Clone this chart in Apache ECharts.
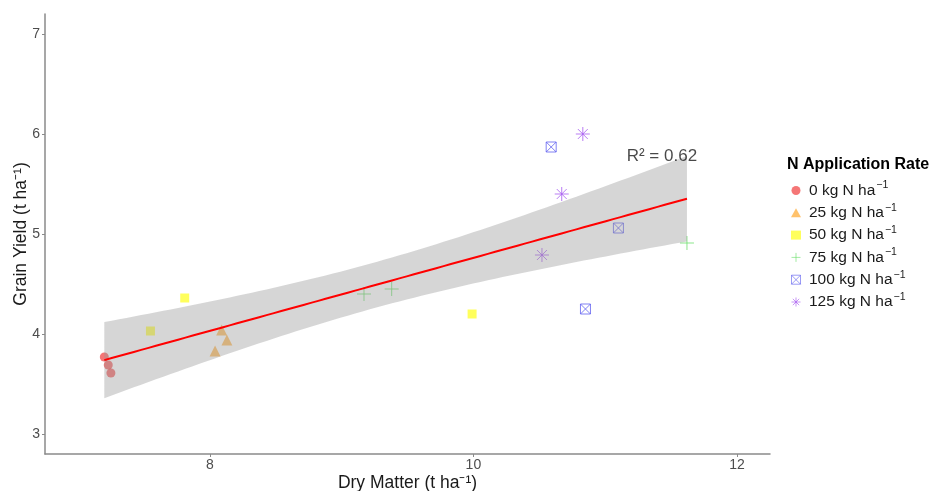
<!DOCTYPE html>
<html>
<head>
<meta charset="utf-8">
<script src="https://cdn.jsdelivr.net/npm/echarts@6/dist/echarts.min.js"></script>
<style>
  html, body { margin: 0; padding: 0; background: #fff; }
  #chart { width: 929px; height: 491px; }
</style>
</head>
<body>
<div id="chart"></div>
<script>
// Tick labels
const xTicks = [8, 10, 12];
const yTicks = [3, 4, 5, 6, 7];

// N application rates (kg N ha-1)
const rateLabels = ['0', '25', '50', '75', '100', '125'];

// Dry matter (t ha-1) and grain yield (t ha-1) per N rate
const dm0 = [7.20, 7.23, 7.25];
const gy0 = [3.77, 3.69, 3.61];
const dm25 = [8.09, 8.13, 8.04];
const gy25 = [4.04, 3.94, 3.83];
const dm50 = [7.81, 7.55, 9.99];
const gy50 = [4.36, 4.03, 4.20];
const dm75 = [9.17, 9.38, 11.62];
const gy75 = [4.40, 4.45, 4.91];
const dm100 = [10.59, 11.10, 10.85];
const gy100 = [5.87, 5.06, 4.25];
const dm125 = [10.83, 10.67, 10.52];
const gy125 = [6.00, 5.40, 4.79];

const groupsX = [dm0, dm25, dm50, dm75, dm100, dm125];
const groupsY = [gy0, gy25, gy50, gy75, gy100, gy125];

// ---- ordinary least squares fit with 95% confidence band ----
const allX = groupsX.flat();
const allY = groupsY.flat();
const n = allX.length;
const mx = allX.reduce((a, b) => a + b, 0) / n;
const my = allY.reduce((a, b) => a + b, 0) / n;
let sxx = 0, sxy = 0, syy = 0;
for (let i = 0; i < n; i++) {
  const dx = allX[i] - mx, dy = allY[i] - my;
  sxx += dx * dx; sxy += dx * dy; syy += dy * dy;
}
const slope = sxy / sxx;
const intercept = my - slope * mx;
const r2 = (sxy * sxy) / (sxx * syy);
const sResid = Math.sqrt(syy * (1 - r2) / (n - 2));
const tCrit = 2.1199; // t quantile 0.975, df = 16

const xMinData = Math.min(...allX), xMaxData = Math.max(...allX);
const fitLine = [], bandUpper = [], bandLower = [];
const steps = 80;
for (let k = 0; k < steps; k++) {
  const x = xMinData + (xMaxData - xMinData) * k / (steps - 1);
  const yhat = intercept + slope * x;
  const se = sResid * Math.sqrt(1 / n + (x - mx) * (x - mx) / sxx);
  fitLine.push([x, yhat]);
  bandUpper.push([x, yhat + tCrit * se]);
  bandLower.push([x, yhat - tCrit * se]);
}

// ---- marker styles ----
const plusPath = 'path://M0,5L10,5M5,0L5,10';
const boxXPath = 'path://M0,0L10,0L10,10L0,10ZM0,0L10,10M10,0L0,10';
const starPath = 'path://M0,5L10,5M5,0L5,10M1.46,1.46L8.54,8.54M8.54,1.46L1.46,8.54';

const markers = [
  { symbol: 'circle', size: 9, stroked: false, itemStyle: { color: 'rgba(240,40,40,0.8)' } },
  { symbol: 'triangle', size: 11, stroked: false, itemStyle: { color: 'rgba(255,150,0,0.72)' } },
  { symbol: 'rect', size: 9, stroked: false, itemStyle: { color: 'rgba(255,255,0,0.8)' } },
  { symbol: plusPath, size: 14, stroked: true, itemStyle: { color: 'rgba(0,0,0,0)', borderColor: '#6ee06e', borderWidth: 1 } },
  { symbol: boxXPath, size: 10, stroked: true, itemStyle: { color: 'rgba(0,0,0,0)', borderColor: '#6262f0', borderWidth: 1 } },
  { symbol: starPath, size: 14, stroked: true, itemStyle: { color: 'rgba(0,0,0,0)', borderColor: '#a85cf0', borderWidth: 1 } }
];

const FONT = 'Liberation Sans, Arial, sans-serif';

const pointSeries = rateLabels.map((lab, gi) => ({
  name: lab,
  type: 'scatter',
  symbol: markers[gi].symbol,
  symbolSize: markers[gi].size,
  itemStyle: markers[gi].itemStyle,
  data: groupsX[gi].map((x, i) => [x, groupsY[gi][i]]),
  z: 2
}));

// Legend entries: outline-only markers keep thin strokes and an empty fill
const legendData = rateLabels.map((lab, gi) => markers[gi].stroked
  ? { name: lab, itemStyle: { color: 'rgba(0,0,0,0)', borderColor: markers[gi].itemStyle.borderColor, borderWidth: 0.8 } }
  : { name: lab });

const chart = echarts.init(document.getElementById('chart'));
chart.setOption({
  animation: false,
  backgroundColor: '#fff',
  textStyle: { fontFamily: FONT },
  title: {
    text: 'N Application Rate',
    left: 787,
    top: 157,
    padding: 0,
    textStyle: { fontFamily: FONT, fontSize: 16, fontWeight: 'bold', color: '#000' }
  },
  legend: {
    data: legendData,
    orient: 'vertical',
    left: 791,
    top: 180,
    padding: 0,
    itemWidth: 10,
    itemHeight: 9,
    itemGap: 1.3,
    selectedMode: false,
    formatter: name => `{t|${name} kg N ha}{s|\u22121}`,
    textStyle: {
      fontFamily: FONT,
      color: '#000',
      rich: {
        t: { fontFamily: FONT, fontSize: 15.5, color: '#1a1a1a', lineHeight: 20, padding: [0, 0, 0, 3] },
        s: { fontFamily: FONT, fontSize: 10.5, color: '#1a1a1a', lineHeight: 10, padding: [0, 0, 10, 1] }
      }
    }
  },
  grid: { left: 45, right: 159, top: 14, bottom: 37, outerBoundsMode: 'none', containLabel: false },
  xAxis: {
    type: 'value',
    min: 6.75,
    max: 12.25,
    name: 'Dry Matter (t ha\u207B\u00B9)',
    nameLocation: 'middle',
    nameGap: 20,
    nameMoveOverlap: false,
    nameTextStyle: { fontFamily: FONT, fontSize: 17.5, color: '#1a1a1a' },
    axisLine: { lineStyle: { color: '#8a8a8a', width: 1.5 } },
    axisTick: { show: true, length: 3, customValues: xTicks, lineStyle: { color: '#8a8a8a' } },
    axisLabel: { customValues: xTicks, fontFamily: FONT, fontSize: 14, color: '#4d4d4d', margin: 4 },
    splitLine: { show: false }
  },
  yAxis: {
    type: 'value',
    min: 2.8,
    max: 7.2,
    name: 'Grain Yield (t ha\u207B\u00B9)',
    nameLocation: 'middle',
    nameGap: 15,
    nameMoveOverlap: false,
    nameTextStyle: { fontFamily: FONT, fontSize: 17.5, color: '#1a1a1a' },
    axisLine: { show: true, lineStyle: { color: '#8a8a8a', width: 1.5 } },
    axisTick: { show: true, length: 3, customValues: yTicks, lineStyle: { color: '#8a8a8a' } },
    axisLabel: { customValues: yTicks, fontFamily: FONT, fontSize: 14, color: '#4d4d4d', margin: 5 },
    splitLine: { show: false }
  },
  series: [
    ...pointSeries,
    {
      name: 'band',
      type: 'custom',
      silent: true,
      z: 3,
      data: [bandUpper[0]],
      renderItem: (params, api) => {
        const pts = bandUpper.map(p => api.coord(p))
          .concat(bandLower.slice().reverse().map(p => api.coord(p)));
        return { type: 'polygon', shape: { points: pts }, style: { fill: 'rgba(153,153,153,0.4)' } };
      }
    },
    {
      name: 'fit',
      type: 'line',
      silent: true,
      z: 4,
      showSymbol: false,
      symbol: 'none',
      lineStyle: { color: '#ff0000', width: 2 },
      data: fitLine
    },
    {
      name: 'r2',
      type: 'scatter',
      silent: true,
      z: 5,
      symbolSize: 1,
      itemStyle: { color: 'rgba(0,0,0,0)' },
      data: [[11.43, 5.78]],
      label: {
        show: true,
        position: 'inside',
        formatter: 'R\u00B2 = ' + r2.toFixed(2),
        fontFamily: FONT,
        fontSize: 17,
        color: '#1a1a1a'
      }
    }
  ]
});
</script>
</body>
</html>
